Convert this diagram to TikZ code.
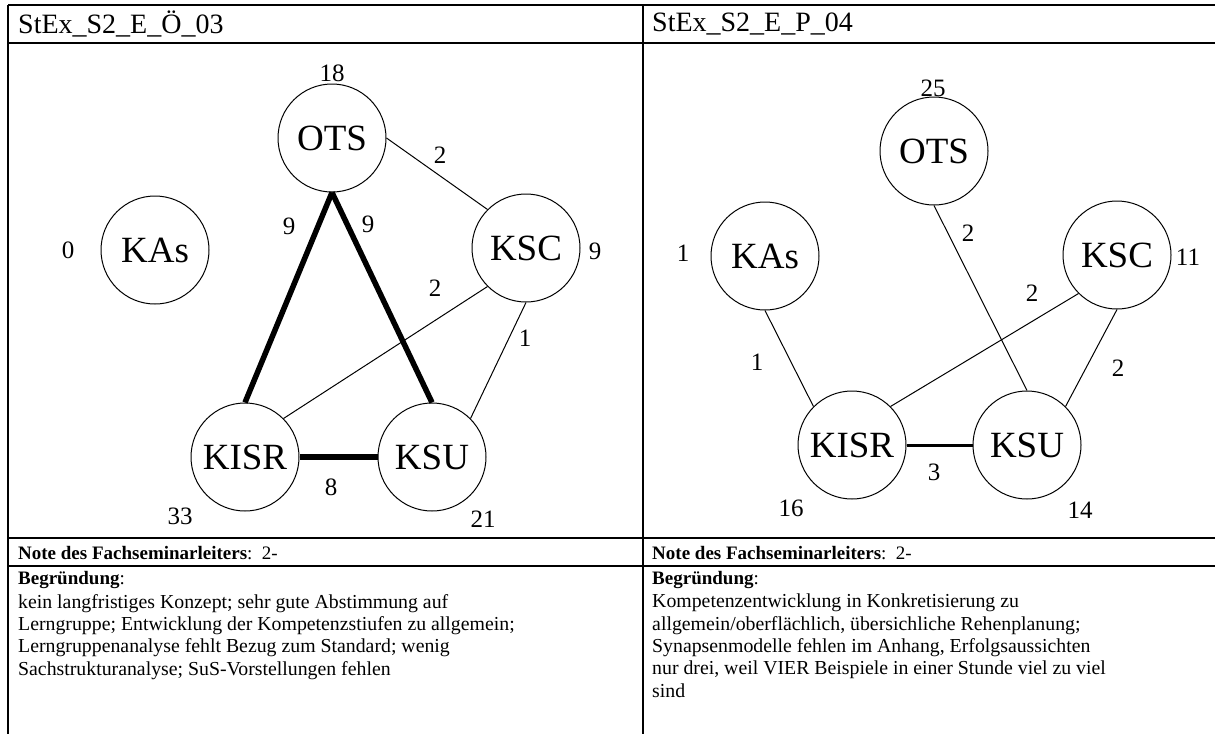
\documentclass[tikz,border=0pt]{standalone}
\usepackage{fontspec}
\setmainfont{Liberation Serif}
\begin{document}
\begin{tikzpicture}[x=1pt,y=-1pt,
  vertex/.style={circle,draw,line width=1pt,minimum size=108pt,inner sep=0pt,
    font=\fontsize{37}{37}\selectfont},
  num/.style={inner sep=0pt,font=\fontsize{25}{25}\selectfont},
  thinedge/.style={line width=1pt},
  heavyedge/.style={line width=5.5pt},
  midedge/.style={line width=3pt},
  rule/.style={line width=1.8pt},
  head/.style={anchor=west,inner sep=0pt,font=\fontsize{28}{28}\selectfont},
  grade/.style={anchor=west,inner sep=0pt,font=\fontsize{19}{22}\selectfont},
  body/.style={anchor=north west,inner sep=0pt,align=left,
    font=\fontsize{19.8}{22.3}\selectfont}]
\useasboundingbox (0,0) rectangle (1215,734);

% table rules
\draw[rule] (8,5) -- (1215,5);
\draw[rule] (8,43) -- (1215,43);
\draw[rule] (8,538) -- (1215,538);
\draw[rule] (8,566) -- (1215,566);
\draw[rule] (8,5) -- (8,734);
\draw[rule] (643,5) -- (643,734);

% column headings
\node[head] (h1) at (18,24) {StEx\_S2\_E\_Ö\_03};
\node[head] (h2) at (652,24) {StEx\_S2\_E\_P\_04};

% left network
\node[vertex] (kas1)  at (155,250) {KAs};
\node[vertex] (ots1)  at (332,138) {OTS};
\node[vertex] (ksc1)  at (526,248) {KSC};
\node[vertex] (kisr1) at (245,457) {KISR};
\node[vertex] (ksu1)  at (432,457) {KSU};

\draw[heavyedge] (ots1.south) -- (kisr1.north);
\draw[heavyedge] (ots1.south) -- (ksu1.north);
\draw[heavyedge] (kisr1.east) -- (ksu1.west);
\draw[thinedge] (ots1.east) -- (ksc1.north west);
\draw[thinedge] (ksc1.south west) -- (kisr1.north east);
\draw[thinedge] (ksc1.south) -- (ksu1.north east);

\node[num] (n-kas1)  at (68,250)  {0};
\node[num] (n-ots1)  at (332,73)  {18};
\node[num] (n-ksc1)  at (595,251) {9};
\node[num] (n-kisr1) at (180,516) {33};
\node[num] (n-ksu1)  at (483,519) {21};
\node[num] (e-otsksc1)  at (440,155) {2};
\node[num] (e-otskisr1) at (289,226) {9};
\node[num] (e-otsksu1)  at (368,224) {9};
\node[num] (e-ksckisr1) at (435,288) {2};
\node[num] (e-kscksu1)  at (525,338) {1};
\node[num] (e-kisrksu1) at (331,487) {8};

% right network
\node[vertex] (kas2)  at (765,256)  {KAs};
\node[vertex] (ots2)  at (934,151)  {OTS};
\node[vertex] (ksc2)  at (1117,255) {KSC};
\node[vertex] (kisr2) at (852,445)  {KISR};
\node[vertex] (ksu2)  at (1027,445) {KSU};

\draw[thinedge] (kas2.south) -- (kisr2.north west);
\draw[thinedge] (ots2.south) -- (ksu2.north);
\draw[thinedge] (ksc2.south west) -- (kisr2.north east);
\draw[thinedge] (ksc2.south) -- (ksu2.north east);
\draw[midedge] (kisr2.east) -- (ksu2.west);

\node[num] (n-kas2)  at (683,253)  {1};
\node[num] (n-ots2)  at (933,88)   {25};
\node[num] (n-ksc2)  at (1188,257) {11};
\node[num] (n-kisr2) at (791,508)  {16};
\node[num] (n-ksu2)  at (1080,510) {14};
\node[num] (e-otsksu2)  at (968,233)  {2};
\node[num] (e-ksckisr2) at (1032,293) {2};
\node[num] (e-kaskisr2) at (757,362)  {1};
\node[num] (e-kscksu2)  at (1118,368) {2};
\node[num] (e-kisrksu2) at (934,472)  {3};

% grades
\node[grade] (g1) at (18,553) {\textbf{Note des Fachseminarleiters}:\ \ 2-};
\node[grade] (g2) at (652,553) {\textbf{Note des Fachseminarleiters}:\ \ 2-};

% reasons
\node[grade] (b1) at (18,580) {\textbf{Begründung}:};
\node[grade] (b2) at (652,580) {\textbf{Begründung}:};
\node[body] (r1) at (18,594) {kein langfristiges Konzept; sehr gute Abstimmung auf\\
Lerngruppe; Entwicklung der Kompetenzstiufen zu allgemein;\\
Lerngruppenanalyse fehlt Bezug zum Standard; wenig\\
Sachstrukturanalyse; SuS-Vorstellungen fehlen};
\node[body] (r2) at (652,594) {Kompetenzentwicklung in Konkretisierung zu\\
allgemein/oberflächlich, übersichliche Rehenplanung;\\
Synapsenmodelle fehlen im Anhang, Erfolgsaussichten\\
nur drei, weil VIER Beispiele in einer Stunde viel zu viel\\
sind};
\end{tikzpicture}
\end{document}
